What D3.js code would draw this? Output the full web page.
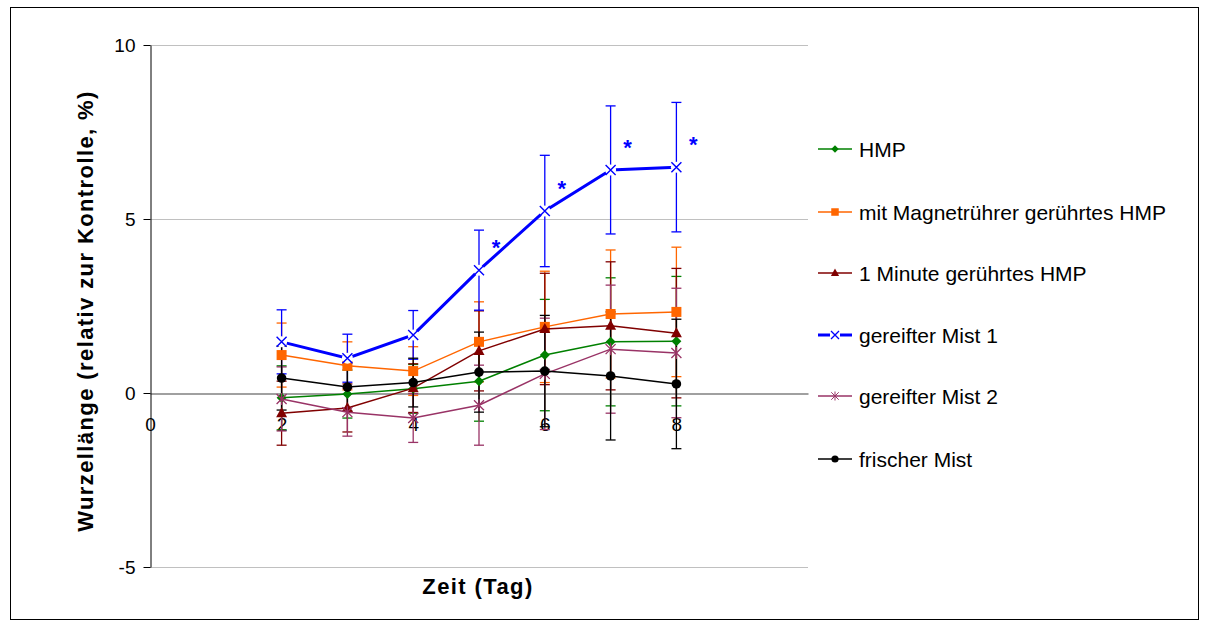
<!DOCTYPE html>
<html>
<head>
<meta charset="utf-8">
<script src="https://cdn.jsdelivr.net/npm/d3@7"></script>
<style>
  body { margin: 0; background: #fff; }
  text { font-family: "Liberation Sans", Arial, sans-serif; }
</style>
</head>
<body>
<svg id="chart"></svg>
<script>
const width = 1208;
const height = 626;

// Days and values
const days = [2, 3, 4, 5, 6, 7, 8];
const hmp = [-0.14, -0.03, 0.12, 0.34, 1.09, 1.47, 1.49];
const magnet = [1.09, 0.78, 0.63, 1.47, 1.9, 2.27, 2.33];
const oneMinute = [-0.58, -0.43, 0.14, 1.21, 1.84, 1.93, 1.72];
const mist1 = [1.47, 1.0, 1.67, 3.53, 5.23, 6.41, 6.49];
const mist2 = [-0.17, -0.55, -0.72, -0.35, 0.55, 1.26, 1.15];
const fresh = [0.43, 0.17, 0.3, 0.6, 0.63, 0.49, 0.26];
// error bar half-widths (same for all series, per day)
const errors = [0.92, 0.69, 0.7, 1.15, 1.6, 1.84, 1.86];
// days marked as significant for gereifter Mist 1
const starDays = [5, 6, 7, 8];

const xTicks = [0, 2, 4, 6, 8];
const yTicks = [-5, 0, 5, 10];

const series = [
  { name: "HMP", values: hmp, color: "#008000", marker: "diamond", lw: 1.5 },
  { name: "mit Magnetrührer gerührtes HMP", values: magnet, color: "#FF6600", marker: "square", lw: 1.5 },
  { name: "1 Minute gerührtes HMP", values: oneMinute, color: "#800000", marker: "triangle", lw: 1.5 },
  { name: "gereifter Mist 1", values: mist1, color: "#0000FF", marker: "x", lw: 3 },
  { name: "gereifter Mist 2", values: mist2, color: "#993366", marker: "star", lw: 1.5 },
  { name: "frischer Mist", values: fresh, color: "#000000", marker: "circle", lw: 1.5 },
];

const svg = d3.select("#chart").attr("width", width).attr("height", height);

// outer frame
svg.append("rect")
  .attr("x", 10.5).attr("y", 7.5)
  .attr("width", 1188).attr("height", 612)
  .attr("fill", "#fff").attr("stroke", "#000").attr("stroke-width", 1);

const x = d3.scaleLinear().domain([0, 10]).range([150, 808]);
const y = d3.scaleLinear().domain([-5, 10]).range([567, 45]);

// gridlines
svg.append("g")
  .selectAll("line")
  .data(yTicks.filter((d) => d !== 0))
  .join("line")
  .attr("x1", x(0)).attr("x2", x(10))
  .attr("y1", (d) => Math.round(y(d)) + 0.5)
  .attr("y2", (d) => Math.round(y(d)) + 0.5)
  .attr("stroke", "#c0c0c0");

// x axis at y = 0
const xAxis = svg.append("g")
  .attr("transform", `translate(0,${Math.round(y(0)) + 0.5})`)
  .call(d3.axisBottom(x).tickValues(xTicks).tickFormat((d) => String(d)).tickSize(0).tickPadding(24));
xAxis.select(".domain").attr("stroke", "#808080").attr("stroke-width", 1.4);
xAxis.selectAll("text").attr("font-size", 19).attr("fill", "#000")
  .attr("font-family", "Liberation Sans, Arial, sans-serif");

// y axis
const yAxis = svg.append("g")
  .attr("transform", `translate(${x(0) + 0.5},0)`)
  .call(d3.axisLeft(y).tickValues(yTicks).tickFormat((d) => String(d)).tickSize(7).tickSizeOuter(0).tickPadding(8));
yAxis.select(".domain").attr("stroke", "#000");
yAxis.selectAll(".tick line").attr("stroke", "#000");
yAxis.selectAll("text").attr("font-size", 19).attr("fill", "#000")
  .attr("font-family", "Liberation Sans, Arial, sans-serif");

// axis titles
svg.append("text")
  .attr("x", 478).attr("y", 594)
  .attr("text-anchor", "middle")
  .attr("font-size", 22).attr("font-weight", "bold")
  .attr("letter-spacing", 1.4)
  .text("Zeit (Tag)");

svg.append("text")
  .attr("transform", `translate(93,311) rotate(-90)`)
  .attr("text-anchor", "middle")
  .attr("font-size", 22).attr("font-weight", "bold")
  .attr("letter-spacing", 1.4)
  .text("Wurzellänge (relativ zur Kontrolle, %)");

function drawMarker(g, type, color, cx, cy) {
  if (type === "diamond") {
    g.append("path").attr("d", `M${cx},${cy - 5}L${cx + 5},${cy}L${cx},${cy + 5}L${cx - 5},${cy}Z`)
      .attr("fill", color);
  } else if (type === "square") {
    g.append("rect").attr("x", cx - 5).attr("y", cy - 5).attr("width", 10).attr("height", 10)
      .attr("fill", color);
  } else if (type === "triangle") {
    g.append("path").attr("d", `M${cx},${cy - 6}L${cx + 5.5},${cy + 4}L${cx - 5.5},${cy + 4}Z`)
      .attr("fill", color);
  } else if (type === "x") {
    g.append("path").attr("d", `M${cx - 5},${cy - 5}L${cx + 5},${cy + 5}M${cx + 5},${cy - 5}L${cx - 5},${cy + 5}`)
      .attr("stroke", color).attr("stroke-width", 1.4);
  } else if (type === "star") {
    g.append("path").attr("d",
      `M${cx - 5},${cy - 5}L${cx + 5},${cy + 5}M${cx + 5},${cy - 5}L${cx - 5},${cy + 5}M${cx},${cy - 6}L${cx},${cy + 6}`)
      .attr("stroke", color).attr("stroke-width", 1.3);
  } else if (type === "circle") {
    g.append("circle").attr("cx", cx).attr("cy", cy).attr("r", 4.8).attr("fill", color);
  }
}

// error bars
series.forEach((s) => {
  const g = svg.append("g").attr("stroke", s.color).attr("stroke-width", 1.3);
  s.values.forEach((v, i) => {
    const cx = x(days[i]);
    const top = y(v + errors[i]);
    const bot = y(v - errors[i]);
    g.append("line").attr("x1", cx).attr("x2", cx).attr("y1", top).attr("y2", bot);
    g.append("line").attr("x1", cx - 5).attr("x2", cx + 5).attr("y1", top).attr("y2", top);
    g.append("line").attr("x1", cx - 5).attr("x2", cx + 5).attr("y1", bot).attr("y2", bot);
  });
});

// lines and markers
const line = d3.line().x((d, i) => x(days[i])).y((d) => y(d));
series.forEach((s) => {
  svg.append("path")
    .datum(s.values)
    .attr("d", line)
    .attr("fill", "none")
    .attr("stroke", s.color)
    .attr("stroke-width", s.lw);
  const g = svg.append("g");
  s.values.forEach((v, i) => {
    if (s.marker === "x") {
      g.append("circle").attr("cx", x(days[i])).attr("cy", y(v)).attr("r", 5.5).attr("fill", "#fff");
    }
    drawMarker(g, s.marker, s.color, x(days[i]), y(v));
  });
});

// significance stars
svg.append("g")
  .selectAll("text")
  .data(starDays)
  .join("text")
  .attr("x", (d) => x(d) + 17)
  .attr("y", (d) => y(mist1[days.indexOf(d)]) - 15)
  .attr("text-anchor", "middle")
  .attr("font-size", 22)
  .attr("font-weight", "bold")
  .attr("fill", "#0000FF")
  .text("*");

// legend
const legendY = [149, 212, 273, 335, 396, 459];
const legend = svg.append("g");
series.forEach((s, i) => {
  const ly = legendY[i];
  if (s.marker === "x") {
    legend.append("line").attr("x1", 818).attr("x2", 830).attr("y1", ly).attr("y2", ly)
      .attr("stroke", s.color).attr("stroke-width", s.lw);
    legend.append("line").attr("x1", 840).attr("x2", 852).attr("y1", ly).attr("y2", ly)
      .attr("stroke", s.color).attr("stroke-width", s.lw);
    legend.append("path").attr("d", `M831,${ly - 4}L839,${ly + 4}M839,${ly - 4}L831,${ly + 4}`)
      .attr("stroke", s.color).attr("stroke-width", 1.3);
  } else {
    legend.append("line").attr("x1", 818).attr("x2", 852).attr("y1", ly).attr("y2", ly)
      .attr("stroke", s.color).attr("stroke-width", s.lw);
    const mg = legend.append("g").attr("transform", `translate(835,${ly}) scale(0.75) translate(-835,${-ly})`);
    drawMarker(mg, s.marker, s.color, 835, ly);
  }
  legend.append("text")
    .attr("x", 859).attr("y", ly + 7.5)
    .attr("font-size", 21)
    .text(s.name);
});
</script>
</body>
</html>
